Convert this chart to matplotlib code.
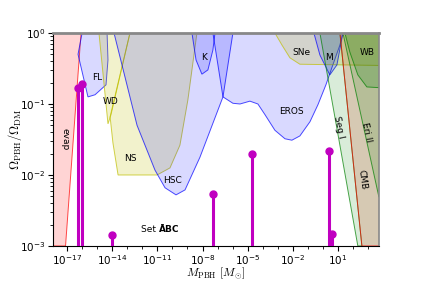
import numpy as np
import matplotlib
matplotlib.use("Agg")
import matplotlib.pyplot as plt

plt.rcParams['mathtext.fontset'] = 'cm'
plt.rcParams['font.family'] = ['DejaVu Sans']

# ---- constraint boundaries (log10 M, log10 f) ----
evap_logM = [-19.0, -17.1, -16.07, -19.0]
evap_logf = [-3.0, -3.0, 0.0, 0.0]

fl_logM = [-16.0, -16.27, -15.61, -15.14, -14.41, -14.28, -14.34]
fl_logf = [0.0, -0.30, -0.90, -0.87, -0.73, -0.38, 0.0]

wd_logM = [-14.88, -14.28, -14.08, -12.82]
wd_logf = [0.0, -1.28, -1.15, 0.0]

ns_logM = [-12.82, -14.14, -13.95, -13.61, -11.02, -10.16, -9.50, -8.97, -8.37]
ns_logf = [0.0, -1.18, -1.55, -2.0, -2.0, -1.90, -1.58, -0.94, 0.0]

hsc_logM = [-13.88, -12.35, -11.16, -10.49, -9.76, -9.16, -8.17, -6.64, -5.98]
hsc_logf = [0.0, -1.30, -1.93, -2.18, -2.28, -2.21, -1.75, -0.90, 0.0]

k_logM = [-8.70, -8.43, -8.04, -7.64, -7.31, -7.17]
k_logf = [0.0, -0.38, -0.58, -0.52, -0.24, 0.0]

eros_logM = [-7.31, -6.64, -5.98, -5.51, -4.85, -4.32, -3.85, -3.19, -2.52, -2.06,
             -1.53, -0.86, -0.33, 0.20, 0.66, 1.13, 1.33]
eros_logf = [0.0, -0.90, -0.99, -1.0, -0.96, -1.0, -1.15, -1.37, -1.49, -1.51,
             -1.45, -1.25, -1.01, -0.73, -0.45, -0.17, 0.0]

sne_logM = [-3.19, -2.72, -2.19, -1.53, 4.5, 4.5]
sne_logf = [0.0, -0.17, -0.35, -0.44, -0.46, 0.0]

m_logM = [-0.60, -0.20, 0.46, 0.93, 1.33]
m_logf = [0.0, -0.31, -0.59, -0.45, 0.0]

segue_logM = [-0.20, 2.32, 2.59, 1.13]
segue_logf = [0.0, -3.0, -3.0, 0.0]

cmb_logM = [1.13, 2.59, 4.5, 4.5]
cmb_logf = [0.0, -3.0, -3.0, 0.0]

eri_logM = [1.33, 3.72, 4.5, 4.5]
eri_logf = [0.0, -2.31, -2.31, 0.0]

wb_logM = [1.46, 1.79, 2.32, 2.92, 3.72, 4.5, 4.5]
wb_logf = [0.0, -0.27, -0.59, -0.76, -0.77, -0.77, 0.0]

# ---- benchmark points (stems) ----
stem_logM = [-16.27, -16.0, -14.0, -7.31, -4.72, 0.40, 0.60]
stem_f = [0.168, 0.19, 0.00143, 0.0054, 0.0198, 0.0218, 0.00148]

xticks = [1e-17, 1e-14, 1e-11, 1e-8, 1e-5, 1e-2, 1e1]

fig = plt.figure(figsize=(4.21, 2.81), dpi=100)
ax = fig.add_axes([0.126, 0.1246, 0.774, 0.758])


def region(lm, lf, fc, ec, alpha, z=1):
    x = 10.0 ** np.array(lm)
    y = 10.0 ** np.array(lf)
    ax.fill(x, y, facecolor=fc, alpha=alpha, edgecolor='none', zorder=z)
    ax.fill(x, y, facecolor='none', edgecolor=ec, lw=0.7, alpha=0.7, zorder=z)


region(evap_logM, evap_logf, 'red', 'red', 0.17)
region(fl_logM, fl_logf, 'blue', 'blue', 0.15)
region(wd_logM, wd_logf, '#bfbf00', '#bfbf00', 0.2)
region(ns_logM, ns_logf, '#bfbf00', '#bfbf00', 0.2)
region(hsc_logM, hsc_logf, 'blue', 'blue', 0.15)
region(k_logM, k_logf, 'blue', 'blue', 0.15)
region(eros_logM, eros_logf, 'blue', 'blue', 0.15)
region(sne_logM, sne_logf, '#bfbf00', '#bfbf00', 0.2)
region(m_logM, m_logf, 'blue', 'blue', 0.15)
region(segue_logM, segue_logf, 'green', 'green', 0.15)
region(cmb_logM, cmb_logf, (0.55, 0.4, 0.15), 'red', 0.35)
region(eri_logM, eri_logf, 'green', 'green', 0.15)
region(wb_logM, wb_logf, 'green', 'green', 0.2)

stem_x = 10.0 ** np.array(stem_logM)
ax.vlines(stem_x, 1e-3, stem_f, color='#c000c0', lw=2.2, zorder=5)
ax.plot(stem_x, stem_f, 'o', color='#c000c0', ms=5, zorder=6)

ax.set_xscale('log')
ax.set_yscale('log')
ax.set_xlim(10 ** -17.93, 10 ** 3.72)
ax.set_ylim(1e-3, 1)
ax.set_xticks(xticks)
ax.xaxis.set_minor_locator(matplotlib.ticker.LogLocator(base=10, numticks=40, subs=[1.0]))
ax.xaxis.set_minor_formatter(matplotlib.ticker.NullFormatter())
ax.tick_params(labelsize=7.5, pad=2)
ax.tick_params(axis='x', pad=1.5)
ax.set_xlabel(r'$M_{\rm PBH}\ [M_{\odot}]$', fontsize=8.5, va='center')
ax.set_ylabel(r'$\Omega_{\rm PBH}/\Omega_{\rm DM}$', fontsize=9, va='center')
ax.xaxis.set_label_coords(0.5, -0.127)
ax.yaxis.set_label_coords(-0.117, 0.5)

for s in ['top', 'right']:
    ax.spines[s].set_color('#888888')
ax.spines['top'].set_linewidth(2)
ax.spines['right'].set_linewidth(1.2)

fs = 6.5
def lab(lm, lf, t, rot=0):
    ax.text(10 ** lm, 10 ** lf, t, fontsize=fs, rotation=rot, ha='center', va='center', zorder=7)

lab(-17.13, -1.5, 'evap', -90)
lab(-15.0, -0.63, 'FL')
lab(-14.08, -0.96, 'WD')
lab(-12.82, -1.77, 'NS')
lab(-10.0, -2.08, 'HSC')
lab(-7.9, -0.34, 'K')
lab(-2.06, -1.11, 'EROS')
lab(-1.4, -0.27, 'SNe')
lab(0.4, -0.34, 'M')
lab(1.05, -1.32, 'Seg I', -78)
lab(2.95, -0.27, 'WB')
lab(2.92, -1.4, 'Eri II', -78)
lab(2.6, -2.07, 'CMB', -82)
ax.text(10 ** -10.9, 10 ** -2.77, 'Set ', fontsize=fs, ha='right', va='center', zorder=7)
ax.text(10 ** -10.9, 10 ** -2.77, 'ĀBC', fontsize=fs, fontweight='bold', ha='left', va='center', zorder=7)

fig.savefig('out.png', dpi=100)
